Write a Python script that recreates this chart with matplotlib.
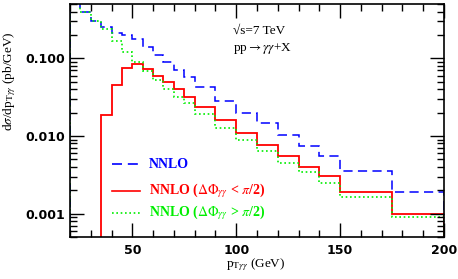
import numpy as np
import matplotlib
matplotlib.use("Agg")
import matplotlib.pyplot as plt
from matplotlib.ticker import FixedLocator, FuncFormatter, LogLocator, NullFormatter

plt.rcParams['font.family'] = ['Liberation Serif', 'DejaVu Serif']
plt.rcParams['mathtext.fontset'] = 'stix'

# bordes de los bins en p_T (GeV)
bordes = [20, 25, 30, 35, 40, 45, 50, 55, 60, 65, 70, 75, 80, 90, 100,
          110, 120, 130, 140, 150, 175, 200]

# dsigma/dpT (pb/GeV)
nnlo = [0.6, 0.399, 0.306, 0.251, 0.214, 0.200, 0.176, 0.141, 0.110, 0.0904,
        0.0706, 0.0579, 0.0423, 0.0285, 0.0199, 0.0145, 0.0102, 0.00745,
        0.00553, 0.00351, 0.0019]
nnlo_menor = [1e-6, 1e-6, 1e-6, 0.0184, 0.0449, 0.0743, 0.0837, 0.0722, 0.0591,
              0.0494, 0.0398, 0.0320, 0.0237, 0.0160, 0.01096, 0.0076, 0.00553,
              0.00399, 0.00303, 0.0019, 0.00099]
nnlo_mayor = [0.6, 0.399, 0.306, 0.237, 0.169, 0.122, 0.0904, 0.0692, 0.0525,
              0.0398, 0.0314, 0.0263, 0.0189, 0.0125, 0.00883, 0.00637, 0.00455,
              0.00344, 0.00248, 0.00164, 0.000904]

etiquetas = ['NNLO',
             r'NNLO ($\Delta\Phi_{\gamma\gamma}$ < $\pi$/2)',
             r'NNLO ($\Delta\Phi_{\gamma\gamma}$ > $\pi$/2)']

fig = plt.figure(figsize=(4.58, 2.79), dpi=100)
ax = fig.add_axes([0.1528, 0.1505, 0.8166, 0.8352])
ax.set_yscale('log')

ax.stairs(nnlo, bordes, baseline=1e-6, color='#0000ff', lw=1.1,
          linestyle=(0, (6, 3.5)))
ax.stairs(nnlo_menor, bordes, baseline=1e-6, color='#ff0000', lw=1.3)
ax.stairs(nnlo_mayor, bordes, baseline=1e-6, color='#00ee00', lw=1.2,
          linestyle=(0, (1, 1.6)))

ax.set_xlim(20, 200)
ax.set_ylim(5e-4, 0.5)

# ejes
ax.xaxis.set_major_locator(FixedLocator([50, 100, 150, 200]))
ax.xaxis.set_minor_locator(FixedLocator(np.arange(20, 201, 10)))
ax.yaxis.set_major_locator(FixedLocator([0.001, 0.01, 0.1]))
ax.yaxis.set_minor_locator(LogLocator(base=10, subs=np.arange(2, 10)))
ax.yaxis.set_minor_formatter(NullFormatter())
ax.yaxis.set_major_formatter(FuncFormatter(lambda v, p: '%.3f' % v))
ax.tick_params(which='both', direction='in', top=True, right=True, width=1.0)
ax.tick_params(which='major', length=10)
ax.tick_params(which='minor', length=5)
for lab in ax.get_xticklabels() + ax.get_yticklabels():
    lab.set_fontfamily('DejaVu Sans')
    lab.set_fontweight('bold')
    lab.set_fontsize(9)
ax.tick_params(axis='x', pad=5)
for s in ax.spines.values():
    s.set_linewidth(1.2)

# titulos de ejes
fig.text(256 / 458, 1 - 265 / 279, r'p$_{\mathrm{T}\gamma\gamma}$ (GeV)',
         fontsize=9.5, ha='center', va='center')
fig.text(10 / 458, 1 - 81 / 279, r'd$\sigma$/dp$_{\mathrm{T}\gamma\gamma}$ (pb/GeV)',
         fontsize=9.5, ha='center', va='center', rotation=90)

ax.text(0.435, 0.885, '√s=7 TeV', transform=ax.transAxes,
        fontsize=9.5, va='center')
ax.text(0.435, 0.81, r'pp$\rightarrow\gamma\gamma$+X', transform=ax.transAxes,
        fontsize=9.5, va='center')

# leyenda manual
colores = ['#0000ff', '#ff0000', '#00ee00']
estilos = [(0, (6, 3.5)), '-', (0, (1, 1.6))]
ys = [164, 191, 213]
for lab, col, est, yp in zip(etiquetas, colores, estilos, ys):
    yf = 1 - yp / 279
    fig.add_artist(plt.Line2D([112 / 458, 140 / 458], [yf, yf], color=col,
                              lw=1.2, linestyle=est))
    fig.text(149 / 458, yf, lab, color=col, fontsize=10, va='center',
             fontweight='bold')

fig.savefig('out.png', dpi=100)
